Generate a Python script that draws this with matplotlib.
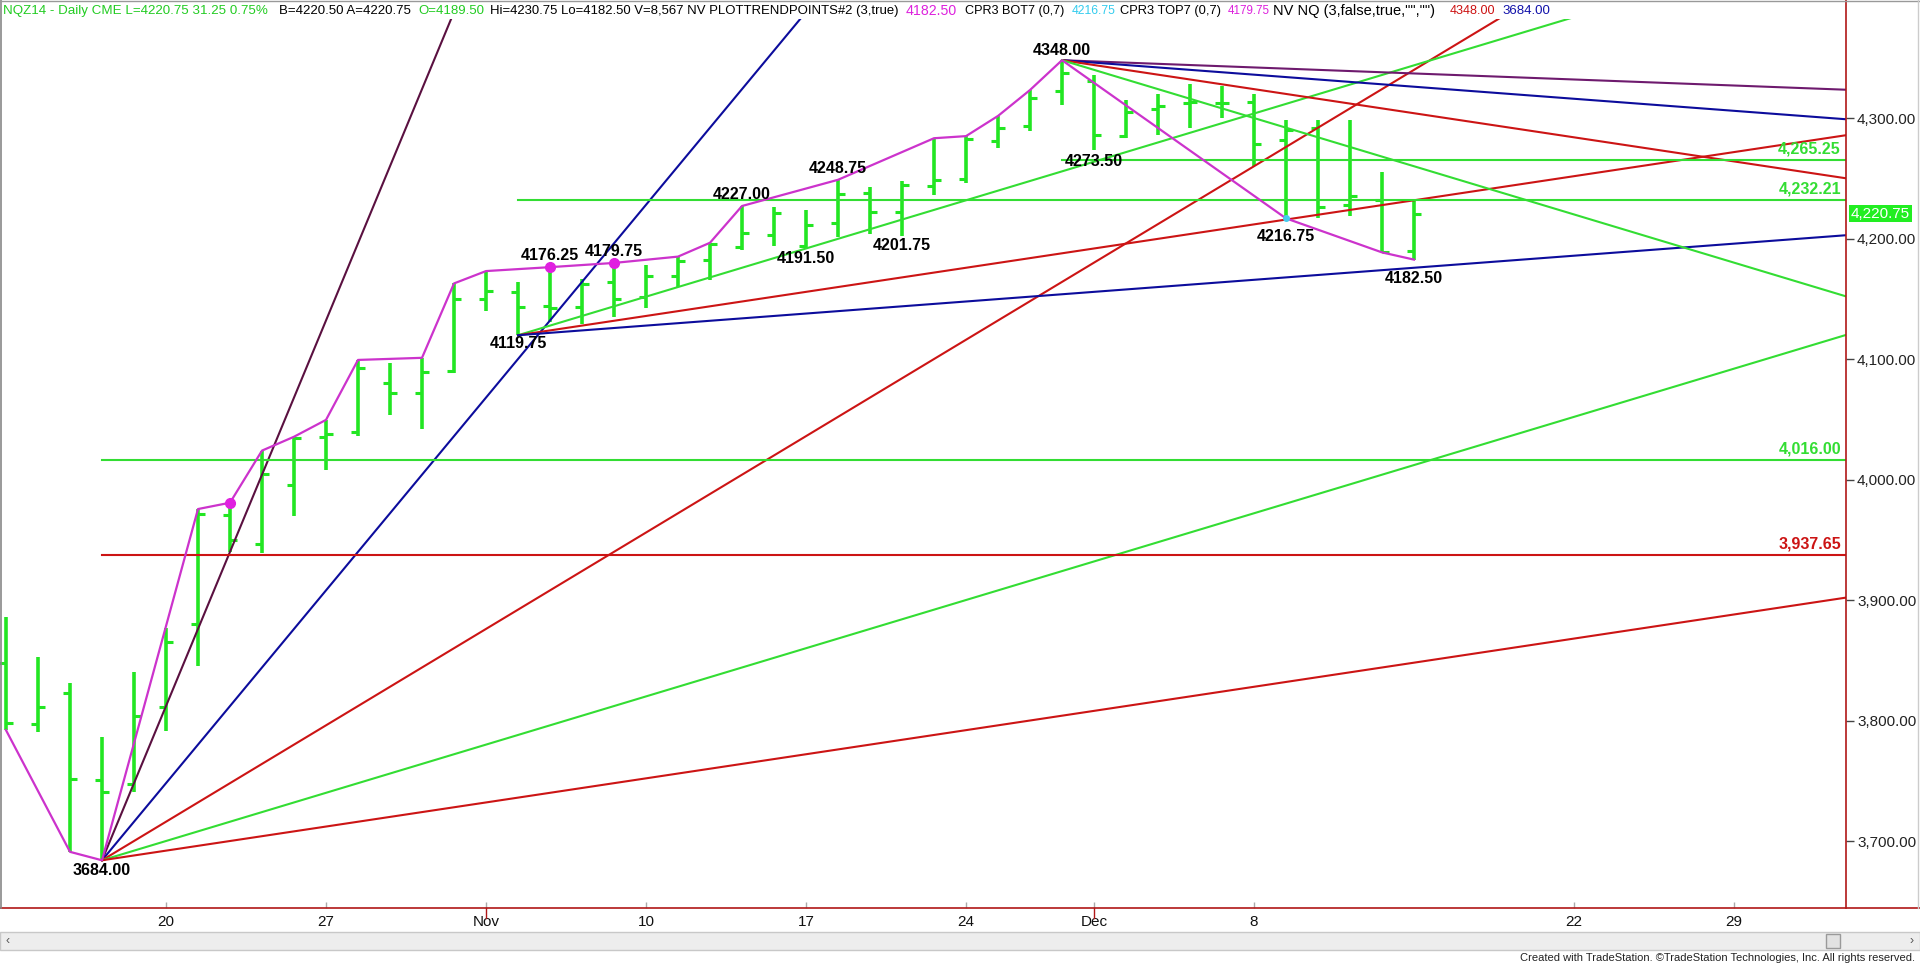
import matplotlib
matplotlib.use('Agg')
import matplotlib.pyplot as plt
from matplotlib.lines import Line2D
from matplotlib.patches import Rectangle

plt.rcParams['font.family'] = ['Liberation Sans', 'DejaVu Sans']
NARROW = ['Liberation Sans Narrow', 'Liberation Sans', 'DejaVu Sans']

# NQZ14 daily bars, Oct 13 - Dec 15 2014 (bar index 0..44)
opens = [3847.5, 3797.0, 3822.5, 3750.5, 3747.25, 3811.0, 3880.0, 3970.5, 3946.5, 3995.5,
         4035.25, 4039.75, 4079.75, 4071.5, 4090.0, 4149.75, 4155.75, 4144.0, 4143.0, 4163.75,
         4151.5, 4169.0, 4182.25, 4192.75, 4203.0, 4193.75, 4213.0, 4238.0, 4222.25, 4243.5,
         4249.0, 4281.25, 4293.5, 4322.75, 4331.0, 4285.0, 4307.25, 4312.5, 4312.25, 4313.0,
         4281.75, 4291.75, 4227.75, 4232.0, 4189.5]
highs = [3885.5, 3852.5, 3831.5, 3786.5, 3840.5, 3877.0, 3975.5, 3980.75, 4024.0, 4035.5,
         4049.5, 4099.25, 4096.5, 4101.0, 4162.75, 4173.0, 4164.25, 4176.25, 4166.5, 4179.75,
         4178.0, 4185.0, 4196.5, 4227.0, 4226.0, 4223.75, 4248.75, 4242.5, 4247.75, 4283.25,
         4285.0, 4301.75, 4323.25, 4348.0, 4335.75, 4315.0, 4319.75, 4328.0, 4326.5, 4319.75,
         4298.25, 4298.25, 4298.25, 4255.0, 4230.75]
lows = [3792.0, 3790.75, 3691.0, 3684.0, 3740.75, 3791.5, 3845.25, 3939.5, 3939.0, 3969.75,
        4008.0, 4036.0, 4053.5, 4041.75, 4088.5, 4140.0, 4119.75, 4131.0, 4129.0, 4135.0,
        4142.0, 4159.5, 4165.5, 4190.5, 4193.75, 4191.5, 4201.0, 4203.75, 4201.75, 4236.0,
        4245.75, 4275.0, 4289.25, 4310.75, 4273.5, 4283.25, 4286.0, 4291.5, 4300.25, 4260.25,
        4216.75, 4217.25, 4219.0, 4188.5, 4182.5]
closes = [3797.75, 3811.25, 3751.25, 3740.75, 3803.75, 3865.0, 3971.0, 3949.75, 4004.5, 4034.5,
          4037.75, 4092.75, 4071.5, 4089.0, 4149.75, 4156.5, 4143.0, 4142.25, 4162.0, 4149.75,
          4169.0, 4181.5, 4195.25, 4204.75, 4221.0, 4211.25, 4237.0, 4222.25, 4244.5, 4248.5,
          4282.25, 4291.5, 4316.25, 4337.0, 4286.0, 4305.25, 4310.0, 4313.5, 4312.5, 4278.25,
          4290.0, 4226.0, 4235.5, 4188.75, 4220.75]

tick_idx = [5, 10, 15, 20, 25, 30, 34, 39, 49, 54]
tick_labels = ['20', '27', 'Nov', '10', '17', '24', 'Dec', '8', '22', '29']
month_idx = [15, 34]

# swing line (magenta)
swing_idx = [0, 2, 3, 6, 7, 8, 9, 10, 11, 13, 14, 15, 17, 19, 21, 22, 23, 26, 29, 30, 31, 32, 33,
             40, 43, 44]
swing_price = [3792.0, 3691.0, 3684.0, 3975.5, 3980.75, 4024.0, 4035.5, 4049.5, 4099.25, 4101.0,
               4162.75, 4173.0, 4176.25, 4179.75, 4185.0, 4196.5, 4227.0, 4248.75, 4283.25,
               4285.0, 4301.75, 4323.25, 4348.0, 4216.75, 4188.5, 4182.5]

top_dot_idx = [7, 17, 19]
top_dot_price = [3980.75, 4176.25, 4179.75]
bot_dot_idx = [40]
bot_dot_price = [4216.75]

pivot_idx = [3, 16, 17, 19, 23, 25, 26, 28, 33, 34, 40, 44]
pivot_price = [3684.00, 4119.75, 4176.25, 4179.75, 4227.00, 4191.50, 4248.75, 4201.75,
               4348.00, 4273.50, 4216.75, 4182.50]

level_price = [4265.25, 4232.21, 4016.00, 3937.65]
level_start = [33, 16, 3, 3]

fan_anchor_idx = [3, 16, 33]
fan_anchor_price = [3684.00, 4119.75, 4348.00]
fan_slopes = [[64, 32, 16, 8, 4], [8, 4, 2], [-1, -2, -4, -8]]

last_price = 4220.75

# colours
BAR_GREEN = '#22E622'
LINE_GREEN = '#33DD33'
RED = '#CC1414'
NAVY = '#0C0C9C'
MAROON = '#5A1040'
PURPLE = '#6E1A6E'
MAGENTA = '#CC33CC'
DOT = '#E020E0'
CYAN = '#44CCEE'
AXRED = '#B01818'

fan_colors = [[MAROON, NAVY, RED, LINE_GREEN, RED],
              [LINE_GREEN, RED, NAVY],
              [PURPLE, NAVY, RED, LINE_GREEN]]
level_colors = [LINE_GREEN, LINE_GREEN, LINE_GREEN, RED]

W, H = 1920, 964
fig = plt.figure(figsize=(W / 100, H / 100), dpi=100)
fig.patch.set_facecolor('white')
ax = fig.add_axes([0, 1 - 908 / H, 1846 / W, (908 - 19) / H])

x_left, x_right = -0.1875, 57.5
ax.set_xlim(x_left, x_right)
ax.set_ylim(3644.4, 4382.2)

# fans
for i0, p0, slopes, cols in zip(fan_anchor_idx, fan_anchor_price, fan_slopes, fan_colors):
    for s, c in zip(slopes, cols):
        ax.plot([i0, x_right], [p0, p0 + s * (x_right - i0)], color=c, lw=1.5, zorder=3)

# horizontal levels
for p, i0, c in zip(level_price, level_start, level_colors):
    ax.plot([i0, x_right], [p, p], color=c, lw=1.5, zorder=3)
    ax.annotate(f'{p:,.2f}', xy=(1, p), xycoords=ax.get_yaxis_transform(),
                xytext=(-5, 11), textcoords='offset pixels', ha='right', va='center',
                fontsize=11.5, fontweight='bold', color=c, zorder=5)

# OHLC bars
idx = list(range(len(opens)))
tw = 0.22
ax.vlines(idx, lows, highs, color=BAR_GREEN, lw=2.6, zorder=2)
ax.hlines(opens, [i - tw for i in idx], idx, color=BAR_GREEN, lw=2.2, zorder=2)
ax.hlines(closes, idx, [i + tw for i in idx], color=BAR_GREEN, lw=2.2, zorder=2)

# swing line and pivot dots
ax.plot(swing_idx, swing_price, color=MAGENTA, lw=1.6, zorder=4)
ax.plot(top_dot_idx, top_dot_price, 'o', color=DOT, ms=7, zorder=5)
ax.plot(bot_dot_idx, bot_dot_price, 'o', color=CYAN, ms=4, zorder=5)

# pivot labels
label_dy = [-10, -8.5, 11.5, 11.5, 11.5, -9.5, 11.5, -9, 9.5, -12, -18, -18.5]
for i, p, dy in zip(pivot_idx, pivot_price, label_dy):
    ax.annotate(f'{p:.2f}', xy=(i, p), xytext=(0, dy), textcoords='offset pixels',
                ha='center', va='center', fontsize=11.5, fontweight='bold', color='black',
                zorder=6)

# axes styling
for sp in ax.spines.values():
    sp.set_visible(False)
ax.yaxis.tick_right()
yt = list(range(3700, 4301, 100))
ax.set_yticks(yt)
ax.set_yticklabels([f'{v:,.2f}' for v in yt])
ax.tick_params(axis='y', length=6, width=1, color='#444444', pad=2, labelsize=11,
               labelcolor='#222222')
ax.set_xticks(tick_idx)
ax.set_xticklabels(tick_labels, fontfamily=NARROW)
ax.tick_params(axis='x', direction='in', length=4, width=1, color='#AAAAAA', pad=5,
               labelsize=11, labelcolor='#111111')
for m in month_idx:
    ax.plot([m, m], [0, -10 / 889], color=AXRED, lw=1, transform=ax.get_xaxis_transform(),
            clip_on=False)

# current price box
ax.annotate(f'{last_price:,.2f}', xy=(1, last_price), xycoords=ax.get_yaxis_transform(),
            xytext=(5, 0), textcoords='offset pixels', ha='left', va='center',
            fontsize=11, color='white',
            bbox=dict(boxstyle='square,pad=0.12', fc='#22EE22', ec='none'), zorder=7,
            annotation_clip=False)


def fline(x0, y0, x1, y1, **kw):
    fig.add_artist(Line2D([x0 / W, x1 / W], [1 - y0 / H, 1 - y1 / H], **kw))


# chart frame
fline(0, 908, W, 908, color=AXRED, lw=1.2)
fline(1846, 0, 1846, 908, color=AXRED, lw=1.2)
fline(0.5, 0, 0.5, 908, color='#888888', lw=1.2)
fline(0, 0.5, W, 0.5, color='#999999', lw=1)
fline(1918, 0, 1918, 908, color='#CCCCCC', lw=1)

# scroll bar
fig.add_artist(Rectangle((0, 1 - 950 / H), 1, 18 / H, transform=fig.transFigure,
                         fc='#EDEDED', ec='#C8C8C8', lw=1))
fig.add_artist(Rectangle((1826 / W, 1 - 948 / H), 14 / W, 14 / H, transform=fig.transFigure,
                         fc='#E2E2E2', ec='#9A9A9A', lw=1))
fig.text(6 / W, 1 - 941 / H, '\u2039', fontsize=9, color='#555555', va='center')
fig.text(1910 / W, 1 - 941 / H, '\u203a', fontsize=9, color='#555555', va='center')

# header: (left px, right px, text, colour); each text shrinks to fit its slot
header = [
    (3, 270, 'NQZ14 - Daily CME L=4220.75 31.25 0.75%', '#22CC22'),
    (279, 412, 'B=4220.50 A=4220.75', 'black'),
    (418, 484, 'O=4189.50', '#22CC22'),
    (490, 900, 'Hi=4230.75 Lo=4182.50 V=8,567 NV PLOTTRENDPOINTS#2 (3,true)', 'black'),
    (906, 957, '4182.50', '#DD22DD'),
    (965, 1065, 'CPR3 BOT7 (0,7)', 'black'),
    (1072, 1116, '4216.75', '#33CCEE'),
    (1120, 1222, 'CPR3 TOP7 (0,7)', 'black'),
    (1228, 1270, '4179.75', '#DD22DD'),
    (1273, 1443, 'NV NQ (3,false,true,"","")', 'black'),
    (1450, 1496, '4348.00', '#CC1111'),
    (1502, 1550, '3684.00', '#1111AA'),
]
renderer = fig.canvas.get_renderer()
for x0, x1, s, c in header:
    t = fig.text(x0 / W, 1 - 11 / H, s, fontsize=10.5, color=c, va='center', ha='left',
                 fontfamily=NARROW)
    w = t.get_window_extent(renderer=renderer).width
    if w > (x1 - x0):
        t.set_fontsize(10.5 * (x1 - x0) / w)

fig.text(1915 / W, 1 - 958 / H,
         'Created with TradeStation. \u00a9TradeStation Technologies, Inc. All rights reserved.',
         fontsize=8, color='#222222', ha='right', va='center', fontfamily=NARROW)

fig.savefig('out.png', dpi=100, facecolor='white')
